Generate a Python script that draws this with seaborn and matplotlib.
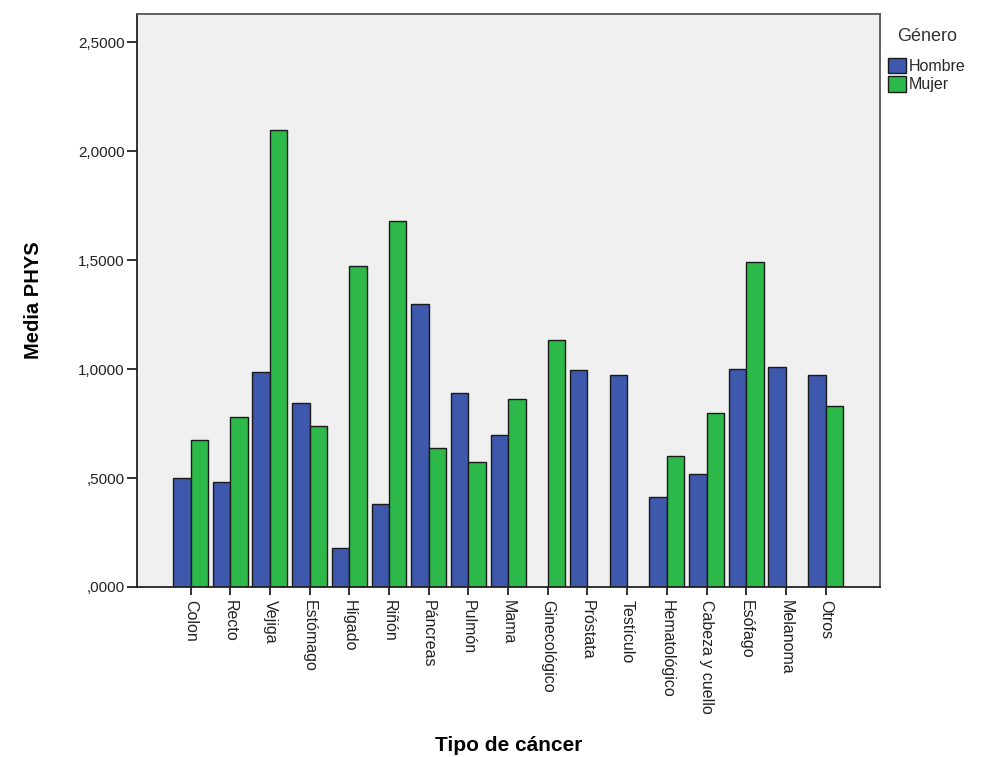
import numpy as np
import pandas as pd
import matplotlib
matplotlib.use("Agg")
import matplotlib.pyplot as plt
import seaborn as sns
from matplotlib.ticker import FuncFormatter, FixedLocator
from matplotlib.patches import Patch

categories = ["Colon", "Recto", "Vejiga", "Estómago", "Hígado", "Riñón", "Páncreas",
              "Pulmón", "Mama", "Ginecológico", "Próstata", "Testículo", "Hematológico",
              "Cabeza y cuello", "Esófago", "Melanoma", "Otros"]
hombre = [0.50, 0.48, 0.986, 0.843, 0.180, 0.379, 1.298, 0.891, 0.696, np.nan,
          0.998, 0.971, 0.411, 0.517, 1.002, 1.011, 0.971]
mujer = [0.677, 0.781, 2.096, 0.739, 1.474, 1.679, 0.639, 0.572, 0.861, 1.133,
         np.nan, np.nan, 0.601, 0.797, 1.494, np.nan, 0.833]
genders = ["Hombre", "Mujer"]
y_ticks = [0.0, 0.5, 1.0, 1.5, 2.0, 2.5]

df = pd.DataFrame({
    "Tipo de cáncer": categories * 2,
    "Media PHYS": hombre + mujer,
    "Género": [genders[0]] * len(categories) + [genders[1]] * len(categories),
})

sns.set_theme(style="white")
plt.rcParams["font.family"] = ["Liberation Sans", "DejaVu Sans"]

colors = {"Hombre": "#3E58AC", "Mujer": "#2DB84A"}

fig = plt.figure(figsize=(9.87, 7.57), dpi=100)
ax = fig.add_axes([137 / 987, 1 - 587 / 757, (880 - 137) / 987, (587 - 14) / 757])
ax.set_facecolor("#F0F0F0")

sns.barplot(data=df, x="Tipo de cáncer", y="Media PHYS", hue="Género",
            order=categories, hue_order=genders, palette=colors,
            width=0.88, gap=0, edgecolor="#1a1a1a", linewidth=1.0,
            errorbar=None, ax=ax, legend=False, saturation=1)

ax.set_xlim(-1.35, 16.5 + 0.87)
ax.set_ylim(0, 2.63)
ax.yaxis.set_major_locator(FixedLocator(y_ticks))

def fmt(v, pos):
    s = f"{v:.4f}".replace(".", ",")
    if s.startswith("0,"):
        s = s[1:]
    return s

ax.yaxis.set_major_formatter(FuncFormatter(fmt))
ax.tick_params(axis="y", which="major", direction="out", length=7, width=1.3,
               color="#222222", labelsize=11, labelcolor="#222222", left=True, pad=2)
ax.tick_params(axis="x", which="major", direction="out", length=6, width=1.3,
               color="#222222", labelsize=11.5, labelcolor="#222222", bottom=True, pad=3)
for lab in ax.get_xticklabels():
    lab.set_rotation(270)
    lab.set_ha("center")
    lab.set_va("top")
    lab.set_rotation_mode("default")

for side in ["left", "bottom"]:
    ax.spines[side].set_color("#222222")
    ax.spines[side].set_linewidth(1.3)
for side in ["top", "right"]:
    ax.spines[side].set_color("#555555")
    ax.spines[side].set_linewidth(1.3)
    ax.spines[side].set_visible(True)

ax.set_ylabel("Media PHYS", fontsize=14.5, fontweight="bold", color="black")
ax.yaxis.set_label_coords(-0.127, 0.5)
ax.set_xlabel("Tipo de cáncer", fontsize=15, fontweight="bold", color="black")
ax.xaxis.set_label_coords(0.5, -0.26)

handles = [Patch(facecolor=colors[g], edgecolor="#1a1a1a", linewidth=1.0, label=g) for g in genders]
leg = fig.legend(handles=handles, title="Género", loc="upper left",
                 bbox_to_anchor=(882 / 987, 1 - 22 / 757), frameon=False,
                 fontsize=11.5, title_fontsize=13, handlelength=1.1, handleheight=1.1,
                 handletextpad=0.2, labelspacing=0.15, borderaxespad=0, alignment="center")
leg.get_title().set_color("#333333")
leg._legend_box.sep = 9

fig.savefig("out.png", dpi=100, facecolor="white")
